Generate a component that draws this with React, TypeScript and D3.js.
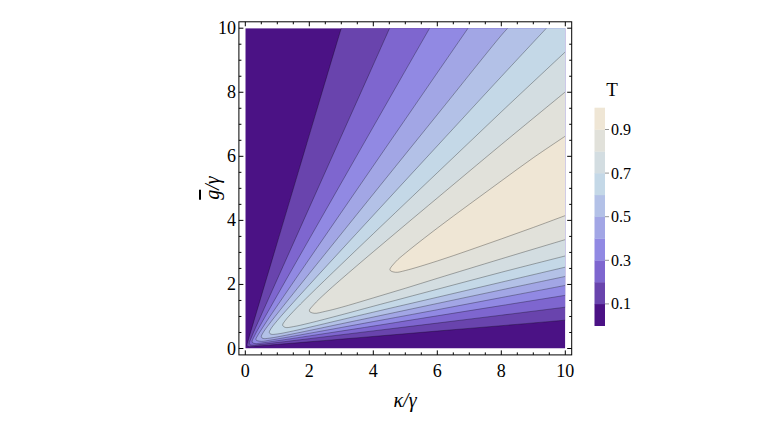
import React from 'react';
import * as d3 from 'd3';

type P = [number, number];

const levels = [0.1, 0.2, 0.3, 0.4, 0.5, 0.6, 0.7, 0.8, 0.9];
const bandColors = ['#4b1285', '#6944ad', '#7e66cf', '#9189e3', '#a2a6e5', '#b3c1e7', '#c4d8e7', '#d3dde1', '#e1e1da', '#efe6d5'];
const legendLabels = [0.1, 0.3, 0.5, 0.7, 0.9];
const kappaTicks = [0, 2, 4, 6, 8, 10];
const gTicks = [0, 2, 4, 6, 8, 10];

// contour lines (κ/γ, ḡ/γ): upper end -> tip -> lower end (κ = 10)
const contourT01: P[] = [[3.0, 10], [2.83, 9.44], [1.886, 6.28], [0.943, 3.12], [0.472, 1.54], [0.236, 0.745], [0.094, 0.265], [0.056, 0.09], [0.1, 0.06], [0.25, 0.066], [0.5, 0.086], [1, 0.127], [2, 0.209], [4, 0.376], [6, 0.545], [8, 0.712], [10, 0.885]];
const contourT02: P[] = [[4.51, 10], [3.896, 8.627], [2.922, 6.454], [1.948, 4.281], [0.974, 2.107], [0.487, 1.018], [0.195, 0.355], [0.125, 0.143], [0.2, 0.104], [0.5, 0.13], [1, 0.187], [2, 0.307], [4, 0.55], [6, 0.793], [8, 1.04], [10, 1.29]];
const contourT03: P[] = [[5.76, 10], [4.91, 8.516], [3.928, 6.796], [2.946, 5.075], [1.964, 3.354], [0.982, 1.631], [0.491, 0.764], [0.295, 0.407], [0.214, 0.201], [0.3, 0.155], [0.5, 0.172], [1, 0.242], [2, 0.393], [3, 0.545], [4, 0.7], [6, 1.02], [8, 1.34], [10, 1.66]];
const contourT04: P[] = [[6.96, 10], [5.946, 8.53], [4.955, 7.09], [3.964, 5.65], [2.973, 4.21], [1.982, 2.769], [0.991, 1.324], [0.743, 0.96], [0.5, 0.587], [0.4, 0.427], [0.333, 0.27], [0.5, 0.224], [0.75, 0.257], [1, 0.298], [1.5, 0.385], [2, 0.475], [3, 0.656], [4, 0.84], [6, 1.21], [8, 1.59], [10, 1.97]];
const contourT05: P[] = [[8.2, 10], [8, 9.777], [6, 7.3], [4, 4.822], [3, 3.581], [2, 2.339], [1.5, 1.716], [1, 1.088], [0.75, 0.766], [0.55, 0.484], [0.5, 0.363], [0.55, 0.314], [0.75, 0.322], [1, 0.363], [1.5, 0.46], [2, 0.562], [3, 0.772], [4, 0.982], [6, 1.406], [8, 1.83], [10, 2.25]];
const contourT06: P[] = [[9.41, 10], [8, 8.489], [6, 6.325], [4, 4.159], [3, 3.075], [2, 1.987], [1.5, 1.438], [1, 0.872], [0.8, 0.613], [0.75, 0.497], [0.8, 0.447], [1, 0.453], [1.5, 0.549], [2, 0.662], [3, 0.899], [4, 1.135], [6, 1.6], [8, 2.07], [10, 2.54]];
const contourT07: P[] = [[10, 9.26], [8, 7.388], [6, 5.487], [4, 3.583], [3, 2.627], [2, 1.66], [1.5, 1.157], [1.25, 0.875], [1.167, 0.73], [1.25, 0.658], [1.5, 0.682], [2, 0.793], [3, 1.051], [4, 1.32], [6, 1.85], [8, 2.38], [10, 2.89]];
const contourT08: P[] = [[10, 8.01], [8, 6.366], [6, 4.698], [5, 3.862], [4, 3.02], [3, 2.165], [2.5, 1.721], [2.15, 1.379], [2.0, 1.17], [2.15, 1.1], [2.5, 1.16], [3, 1.285], [4, 1.58], [5, 1.88], [6, 2.19], [8, 2.8], [10, 3.4]];
const contourT09: P[] = [[10, 6.63], [9, 5.955], [8, 5.231], [7, 4.5], [6, 3.758], [5, 2.974], [4.7, 2.708], [4.52, 2.45], [4.7, 2.38], [5, 2.434], [6, 2.732], [7, 3.07], [8, 3.421], [9, 3.779], [10, 4.15]];

const contours = [contourT01, contourT02, contourT03, contourT04, contourT05, contourT06, contourT07, contourT08, contourT09];

const W = 763;
const H = 429;
const FONT = '"Liberation Serif", "DejaVu Serif", "Times New Roman", serif';

export default function App() {
  const x = d3.scaleLinear().domain([0, 10]).range([245.3, 565.3]);
  const y = d3.scaleLinear().domain([0, 10]).range([348.5, 28.2]);
  const line = d3.line<P>().x(d => x(d[0])).y(d => y(d[1])).curve(d3.curveCatmullRom.alpha(0.5));

  const fillPath = (pts: P[]) => {
    const d = line(pts) as string;
    const first = pts[0];
    const extra = first[1] >= 10 ? `L${x(10)},${y(10)}` : '';
    return d + extra + 'Z';
  };

  const fx0 = x(-0.2), fx1 = x(10.2), fy0 = y(-0.2), fy1 = y(10.2);
  const minor = d3.range(0, 10.01, 0.5);

  const cb = d3.scaleLinear().domain([0, 1]).range([325.7, 107.7]);
  const cbX = 594.5, cbW = 10.5;
  const bandEdges = [0, ...levels, 1];
  const txt = { fontFamily: FONT, fill: '#000' } as React.CSSProperties;

  return (
    <svg width={W} height={H} style={{ position: 'absolute', left: 0, top: 0, background: '#fff' }}>
      <defs>
        <clipPath id="plotclip">
          <rect x={x(0)} y={y(10)} width={x(10) - x(0)} height={y(0) - y(10)} />
        </clipPath>
      </defs>
      <g clipPath="url(#plotclip)">
        <rect x={x(0)} y={y(10)} width={x(10) - x(0)} height={y(0) - y(10)} fill={bandColors[0]} />
        {contours.map((c, i) => (
          <path key={'f' + i} d={fillPath(c)} fill={bandColors[i + 1]} stroke="none" />
        ))}
        {contours.map((c, i) => (
          <path key={'l' + i} d={line(c) as string} fill="none" stroke="#000" strokeOpacity={0.38} strokeWidth={0.8} />
        ))}
      </g>
      <rect x={fx0} y={fy1} width={fx1 - fx0} height={fy0 - fy1} fill="none" stroke="#000" strokeWidth={1} />
      {minor.map(v => {
        const major = Math.abs(v / 2 - Math.round(v / 2)) < 1e-6;
        const len = major ? 4.5 : 2.5;
        return (
          <g key={'t' + v} stroke="#000" strokeWidth={1}>
            <line x1={x(v)} x2={x(v)} y1={fy0} y2={fy0 - len} />
            <line x1={x(v)} x2={x(v)} y1={fy1} y2={fy1 + len} />
            <line y1={y(v)} y2={y(v)} x1={fx0} x2={fx0 + len} />
            <line y1={y(v)} y2={y(v)} x1={fx1} x2={fx1 - len} />
          </g>
        );
      })}
      {kappaTicks.map(v => (
        <text key={'xl' + v} x={x(v)} y={377} textAnchor="middle" style={{ ...txt, fontSize: 18 }}>{v}</text>
      ))}
      {gTicks.map(v => (
        <text key={'yl' + v} x={236} y={y(v) + 6} textAnchor="end" style={{ ...txt, fontSize: 18 }}>{v}</text>
      ))}
      <text x={405} y={407} textAnchor="middle" style={{ ...txt, fontSize: 20, fontStyle: 'italic' }}>κ/γ</text>
      <text transform="translate(219,188) rotate(-90)" textAnchor="middle" style={{ ...txt, fontSize: 20, fontStyle: 'italic' }}>
        <tspan style={{ textDecoration: 'overline' }}>g</tspan>/γ
      </text>
      <text x={612} y={96} textAnchor="middle" style={{ ...txt, fontSize: 19 }}>T</text>
      {bandColors.map((c, i) => (
        <rect key={'cb' + i} x={cbX} y={cb(bandEdges[i + 1])} width={cbW} height={cb(bandEdges[i]) - cb(bandEdges[i + 1]) + 0.3} fill={c} />
      ))}
      {legendLabels.map(v => (
        <g key={'lg' + v}>
          <line x1={cbX + cbW} x2={cbX + cbW + 4} y1={cb(v)} y2={cb(v)} stroke="#666" strokeWidth={0.7} />
          <text x={611} y={cb(v) + 5.5} style={{ ...txt, fontSize: 16 }}>{v.toFixed(1)}</text>
        </g>
      ))}
    </svg>
  );
}
